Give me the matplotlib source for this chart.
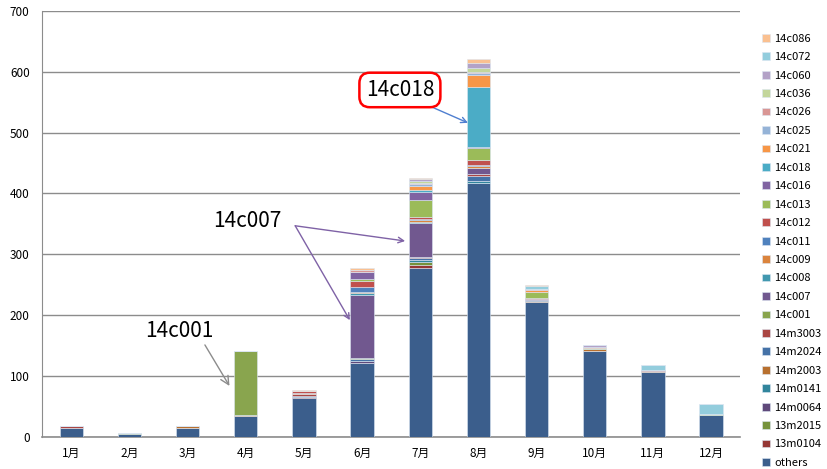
import numpy as np
import matplotlib.pyplot as plt

plt.rcParams['font.family'] = ['Noto Sans CJK JP', 'DejaVu Sans']

months = ['1月', '2月', '3月', '4月', '5月', '6月', '7月', '8月', '9月', '10月', '11月', '12月']

# stacking order, bottom first
series_names = ['others', '13m0104', '13m2015', '14m0064', '14m0141', '14m2003', '14m2024',
                '14m3003', '14c001', '14c007', '14c008', '14c009', '14c011', '14c012',
                '14c013', '14c016', '14c018', '14c021', '14c025', '14c026', '14c036',
                '14c060', '14c072', '14c086']

colors = ['#3B5E8C', '#953735', '#76923C', '#5F497A', '#31859C', '#B8702F', '#4572A7',
          '#AA4643', '#89A54E', '#71588F', '#4198AF', '#DB843D', '#4F81BD', '#C0504D',
          '#9BBB59', '#8064A2', '#4BACC6', '#F79646', '#95B3D7', '#D99694', '#C3D69B',
          '#B3A2C7', '#93CDDD', '#FAC090']

#                 1    2    3    4    5    6    7    8    9   10   11   12
others   = [ 15,   5,  15,  35,  64, 122, 277, 417, 222, 142, 107,  36]
s13m0104 = [  0,   0,   0,   0,   2,   0,   5,   0,   0,   0,   0,   0]
s13m2015 = [  0,   0,   0,   0,   0,   0,   5,   0,   0,   0,   0,   0]
s14m0064 = [  0,   0,   0,   0,   0,   3,   0,   0,   0,   0,   0,   0]
s14m0141 = [  0,   0,   0,   0,   0,   0,   3,   3,   0,   0,   0,   0]
s14m2003 = [  0,   0,   3,   1,   0,   0,   0,   0,   2,   2,   1,   1]
s14m2024 = [  0,   0,   0,   0,   2,   3,   4,   8,   1,   0,   0,   0]
s14m3003 = [  3,   0,   0,   0,   3,   0,   1,   4,   0,   0,   0,   0]
s14c001  = [  0,   1,   0, 105,   0,   2,   0,   0,   0,   0,   0,   0]
s14c007  = [  0,   0,   0,   0,   0, 104,  57,  10,   2,   0,   0,   0]
s14c008  = [  0,   0,   0,   0,   0,   2,   2,   0,   0,   0,   0,   0]
s14c009  = [  0,   0,   0,   0,   2,   3,   2,   3,   0,   0,   0,   0]
s14c011  = [  0,   0,   0,   0,   0,   8,   2,   2,   0,   0,   0,   0]
s14c012  = [  0,   0,   0,   0,   2,   9,   3,   8,   1,   0,   2,   0]
s14c013  = [  0,   0,   0,   0,   0,   3,  28,  20,  11,   2,   0,   1]
s14c016  = [  0,   0,   0,   0,   0,  12,  14,   2,   0,   0,   0,   0]
s14c018  = [  0,   0,   0,   0,   0,   0,   2,  98,   0,   0,   0,   0]
s14c021  = [  0,   0,   0,   0,   0,   0,   8,  19,   3,   2,   1,   0]
s14c025  = [  0,   0,   0,   0,   0,   0,   3,   4,   0,   0,   0,   0]
s14c026  = [  0,   0,   0,   0,   0,   3,   2,   2,   2,   0,   0,   0]
s14c036  = [  0,   0,   0,   0,   0,   0,   3,   6,   0,   0,   0,   0]
s14c060  = [  0,   0,   0,   0,   0,   0,   2,   8,   0,   3,   0,   0]
s14c072  = [  0,   0,   0,   0,   0,   0,   0,   0,   4,   0,   7,  17]
s14c086  = [  0,   0,   1,   0,   2,   3,   3,   7,   1,   0,   0,   0]

data = [others, s13m0104, s13m2015, s14m0064, s14m0141, s14m2003, s14m2024, s14m3003,
        s14c001, s14c007, s14c008, s14c009, s14c011, s14c012, s14c013, s14c016, s14c018,
        s14c021, s14c025, s14c026, s14c036, s14c060, s14c072, s14c086]

fig = plt.figure(figsize=(8.27, 4.69), dpi=100)
ax = fig.add_axes([0.051, 0.068, 0.844, 0.909])

x = np.arange(len(months))
bottom = np.zeros(len(months))
handles = []
for name, vals, c in zip(series_names, data, colors):
    vals = np.array(vals, dtype=float)
    h = ax.bar(x, vals, 0.4, bottom=bottom, color=c, label=name,
               edgecolor='#DCE6F2', linewidth=0.4, zorder=3)
    handles.append(h)
    bottom += vals

ax.set_xlim(-0.5, 11.5)
ax.set_ylim(0, 700)
ax.set_yticks(range(0, 701, 100))
ax.set_xticks(x)
ax.set_xticklabels(months)
ax.tick_params(axis='both', length=0, labelsize=8.5, colors='black')
ax.tick_params(axis='y', pad=9)
ax.tick_params(axis='x', pad=7)
ax.grid(axis='y', color='#8C8C8C', linewidth=1.0, zorder=0)
for s in ['top', 'right']:
    ax.spines[s].set_visible(False)
ax.spines['left'].set_color('#8C8C8C')
ax.spines['bottom'].set_color('#8C8C8C')
ax.spines['bottom'].set_linewidth(1.2)

leg = fig.legend(handles[::-1], series_names[::-1], loc='upper left',
                 bbox_to_anchor=(0.915, 0.94), frameon=False, fontsize=8,
                 handlelength=0.7, handleheight=0.7, handletextpad=0.4,
                 labelspacing=0.76, borderpad=0)

# callouts
ax.annotate('14c001', xy=(2.72, 84), xytext=(1.27, 174), fontsize=15,
            arrowprops=dict(arrowstyle='->', color='#8C8C8C', lw=1.0,
                            shrinkA=0, shrinkB=0, relpos=(0.85, 0.0)),
            va='center', ha='left')
ax.text(2.44, 355, '14c007', fontsize=15, va='center', ha='left')
ax.annotate('', xy=(4.79, 192), xytext=(3.85, 347),
            arrowprops=dict(arrowstyle='->', color='#7F62A6', lw=1.0,
                            shrinkA=0, shrinkB=0))
ax.annotate('', xy=(5.74, 322), xytext=(3.85, 347),
            arrowprops=dict(arrowstyle='->', color='#7F62A6', lw=1.0,
                            shrinkA=0, shrinkB=0))
ax.annotate('', xy=(6.82, 516), xytext=(5.96, 552),
            arrowprops=dict(arrowstyle='->', color='#4F7FD0', lw=1.0,
                            shrinkA=0, shrinkB=0))
ax.text(5.65, 570, '14c018', fontsize=15, va='center', ha='center',
        bbox=dict(boxstyle='round,pad=0.3,rounding_size=0.5', fc='white',
                  ec='#FF0000', lw=1.8))

fig.savefig('out.png', dpi=100)
